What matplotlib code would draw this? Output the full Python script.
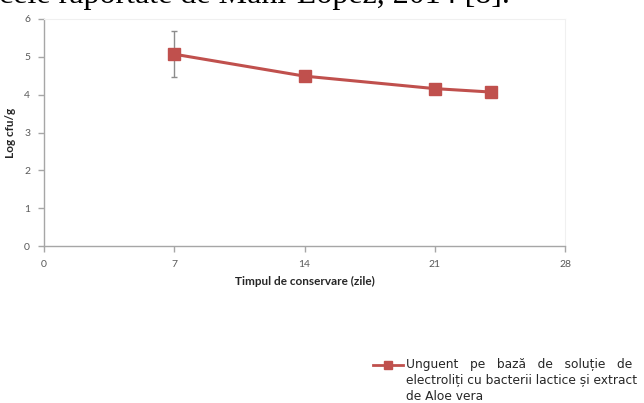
import matplotlib.pyplot as plt
from matplotlib.lines import Line2D

# zile de conservare si incarcatura microbiana (log cfu/g)
zile = [7, 14, 21, 24]
log_cfu = [5.07, 4.49, 4.16, 4.07]
abatere = [0.60, 0, 0, 0]

x_ticks = [0, 7, 14, 21, 28]
y_ticks = [0, 1, 2, 3, 4, 5, 6]

eticheta = ("Unguent   pe   bază   de   soluție   de\n"
            "electroliți cu bacterii lactice și extract\n"
            "de Aloe vera")
rosu = "#C0504D"
gri = "#A6A6A6"

fig = plt.figure(figsize=(6.44, 4.03), dpi=100)

# randul de text de deasupra graficului (taiat sus)
fig.text(-0.002, 1 - 3 / 403, "cele raportate de Mani-López, 2014 [8].",
         family="Liberation Serif", fontsize=23, color="black", va="baseline")

ax = fig.add_axes([44 / 644, 1 - 246 / 403, 521 / 644, 227 / 403])

ax.errorbar(zile, log_cfu, yerr=[abatere, abatere], fmt="none",
            ecolor="#8C8C8C", elinewidth=1, capsize=2, capthick=1, zorder=2)
ax.plot(zile, log_cfu, color=rosu, lw=2.2, marker="s", ms=8,
        mfc=rosu, mec=rosu, zorder=3)

ax.set_xlim(0, 28)
ax.set_ylim(0, 6)
ax.set_xticks(x_ticks)
ax.set_yticks(y_ticks)

for s in ["top", "right"]:
    ax.spines[s].set_color("#F0F0F0")
    ax.spines[s].set_linewidth(0.8)
for s in ["left", "bottom"]:
    ax.spines[s].set_color(gri)
    ax.spines[s].set_linewidth(1)

ax.tick_params(axis="both", direction="out", length=4, width=1, color=gri,
               labelcolor="#595959", labelsize=7.5, pad=6)
for lab in ax.get_xticklabels() + ax.get_yticklabels():
    lab.set_family("Lato")

ax.set_xlabel("Timpul de conservare (zile)", family="Lato", fontweight="bold",
              fontsize=8.5, color="#262626", labelpad=5)
ax.set_ylabel("Log cfu/g", family="Lato", fontweight="bold",
              fontsize=8.5, color="#262626", labelpad=6)

# legenda: marcajul sta in dreptul primului rand de text
y_leg = 1 - 365 / 403
fig.add_artist(Line2D([373 / 644, 403 / 644], [y_leg, y_leg],
                      transform=fig.transFigure, color=rosu, lw=2))
fig.add_artist(Line2D([388 / 644], [y_leg], transform=fig.transFigure,
                      marker="s", ms=5.5, mfc=rosu, mec=rosu, ls="none"))
fig.text(406 / 644, 1 - 358 / 403, eticheta, family="DejaVu Sans",
         fontsize=8.8, color="#262626", va="top", ha="left", linespacing=1.3)

fig.savefig("out.png", dpi=100)
